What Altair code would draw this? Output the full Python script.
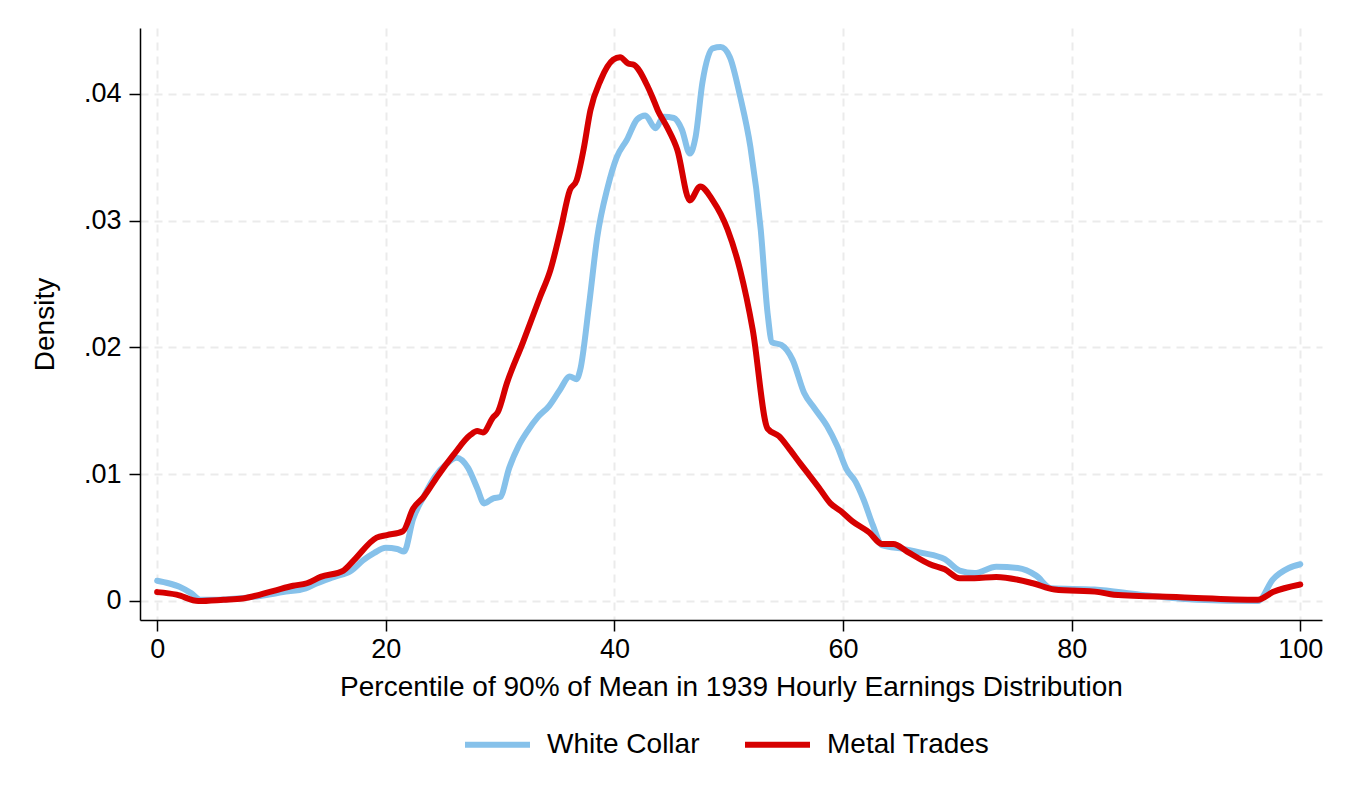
import altair as alt
import pandas as pd

wc_x = [0, 1, 2, 3, 3.8, 5, 7, 9, 11, 13, 14, 15.5, 17, 18, 19, 20, 21, 21.6, 22.4, 23.3,
        24.3, 25.3, 26.2, 27.2, 28, 28.6, 29.4, 30, 30.8, 31.6, 32.4, 33.3, 34.3, 35.2, 36.1,
        36.7, 37.0, 37.8, 38.5, 39.4, 40.2, 41.1, 42.0, 42.7, 43.6, 44.3, 45.2, 45.9, 46.6,
        47.1, 47.7, 48.6, 49.3, 50.1, 51.0, 51.9, 52.8, 53.4, 53.8, 54.6, 55.6, 56.6, 57.5,
        58.6, 59.5, 60.3, 61.1, 61.8, 62.6, 63.4, 65.3, 66.9, 68.9, 70.2, 71.5, 73.4, 75.3,
        76.9, 78.2, 82, 86, 91, 96.3, 97.6, 99, 100]
wc_y = [0.0016, 0.0014, 0.0011, 0.0006, 0.0001, 0.0001, 0.0002, 0.0004, 0.0007, 0.0010,
        0.0014, 0.0019, 0.0024, 0.0032, 0.0038, 0.0042, 0.0041, 0.0039, 0.0065, 0.0082,
        0.0098, 0.0108, 0.0113, 0.0105, 0.0089, 0.0077, 0.0081, 0.0082, 0.0105, 0.0122,
        0.0134, 0.0145, 0.0154, 0.0166, 0.0177, 0.0175, 0.0182, 0.0235, 0.0287, 0.0326,
        0.0350, 0.0364, 0.0380, 0.0383, 0.0373, 0.0382, 0.0381, 0.0372, 0.0353, 0.0366,
        0.0409, 0.0436, 0.0437, 0.0429, 0.0398, 0.0358, 0.0293, 0.0227, 0.0204, 0.0202,
        0.0190, 0.0164, 0.0152, 0.0138, 0.0122, 0.0104, 0.0094, 0.0080, 0.0060, 0.0044,
        0.0041, 0.0038, 0.0033, 0.0024, 0.0022, 0.0027, 0.0026, 0.0020, 0.0010, 0.0009,
        0.0005, 0.0001, 0.0000, 0.0017, 0.0026, 0.0029]

mt_x = [0, 1.7, 3.6, 5.8, 7.5, 10.2, 11.9, 13.1, 14.3, 16.3, 17.2, 19.2, 20.1, 21.5, 22.4,
        23.3, 24.5, 25.9, 27.4, 28.0, 28.5, 29.4, 29.8, 30.6, 32.0, 33.5, 34.4, 35.3, 36.1,
        36.7, 37.3, 37.9, 38.8, 39.9, 40.5, 41.2, 41.7, 42.9, 43.3, 43.8, 44.6, 45.5, 46.6,
        47.5, 48.6, 49.9, 51.0, 52.1, 53.4, 54.4, 55.3, 56.3, 56.9, 58.0, 58.9, 59.8, 60.8,
        62.3, 63.4, 64.4, 65.6, 67.6, 68.9, 70.2, 71.5, 73.4, 76.6, 78.5, 82.4, 83.7, 89.5,
        96.3, 97.6, 100]
mt_y = [0.0007, 0.0005, 0.0000, 0.0001, 0.0002, 0.0008, 0.0012, 0.0014, 0.0019, 0.0024,
        0.0032, 0.0050, 0.0052, 0.0055, 0.0073, 0.0082, 0.0098, 0.0115, 0.0131, 0.0134,
        0.0133, 0.0145, 0.0149, 0.0172, 0.0204, 0.0240, 0.0261, 0.0293, 0.0324, 0.0332,
        0.0356, 0.0387, 0.0411, 0.0427, 0.0429, 0.0424, 0.0423, 0.0406, 0.0398, 0.0387,
        0.0374, 0.0356, 0.0316, 0.0327, 0.0316, 0.0293, 0.0261, 0.0214, 0.0136, 0.0130,
        0.0120, 0.0108, 0.0101, 0.0088, 0.0077, 0.0071, 0.0063, 0.0054, 0.0045, 0.0045,
        0.0039, 0.0029, 0.0025, 0.0018, 0.0018, 0.0019, 0.0014, 0.0009, 0.0007, 0.0005,
        0.0003, 0.0001, 0.0007, 0.0013]

series = ["White Collar", "Metal Trades"]
colors = ["#86C1EA", "#D60000"]
x_ticks = [0, 20, 40, 60, 80, 100]
y_ticks = [0, 0.01, 0.02, 0.03, 0.04]

df = pd.concat([
    pd.DataFrame({"x": wc_x, "y": wc_y, "series": series[0], "order": 0}),
    pd.DataFrame({"x": mt_x, "y": mt_y, "series": series[1], "order": 1}),
])

FONT = "Liberation Sans"
FS = 27
TFS = 28

chart = alt.Chart(df).mark_line(strokeWidth=6, interpolate="monotone", strokeCap="round").encode(
    x=alt.X("x:Q",
            scale=alt.Scale(domain=[-1.5, 101.9], nice=False, zero=False),
            axis=alt.Axis(values=x_ticks, title="Percentile of 90% of Mean in 1939 Hourly Earnings Distribution",
                          format="d", titlePadding=11, labelPadding=5)),
    y=alt.Y("y:Q",
            scale=alt.Scale(domain=[-0.0015, 0.0452], nice=False, zero=False),
            axis=alt.Axis(values=y_ticks, title="Density", titlePadding=24, labelPadding=8,
                          labelExpr="datum.value == 0 ? '0' : replace(format(datum.value, '.2f'), '0.', '.')")),
    color=alt.Color("series:N", scale=alt.Scale(domain=series, range=colors),
                    legend=alt.Legend(title=None, orient="none", direction="horizontal",
                                      legendX=322, legendY=681, symbolType="stroke",
                                      symbolSize=4225, symbolStrokeWidth=6,
                                      labelFontSize=TFS, labelFont=FONT, labelOffset=14,
                                      labelLimit=500,
                                      columnPadding=33, padding=0, labelColor="black")),
    detail="series:N",
    order="x:Q",
).properties(
    width=1182, height=592,
    autosize=alt.AutoSizeParams(type="none"),
    padding={"left": 132, "top": 20, "right": 20, "bottom": 182},
    background="white",
).configure_view(stroke=None).configure_axis(
    labelFont=FONT, titleFont=FONT, labelFontSize=FS, titleFontSize=TFS,
    labelColor="black", titleColor="black", titleFontWeight="normal",
    domainColor="black", domainWidth=1.5, tickColor="black", tickWidth=1.5, tickSize=11,
    grid=True, gridColor="#EBEBEB", gridWidth=2, gridDash=[8, 6],
).configure_axisY(labelAngle=0)

chart.save("out.html", embed_options={"renderer": "svg", "actions": False})
